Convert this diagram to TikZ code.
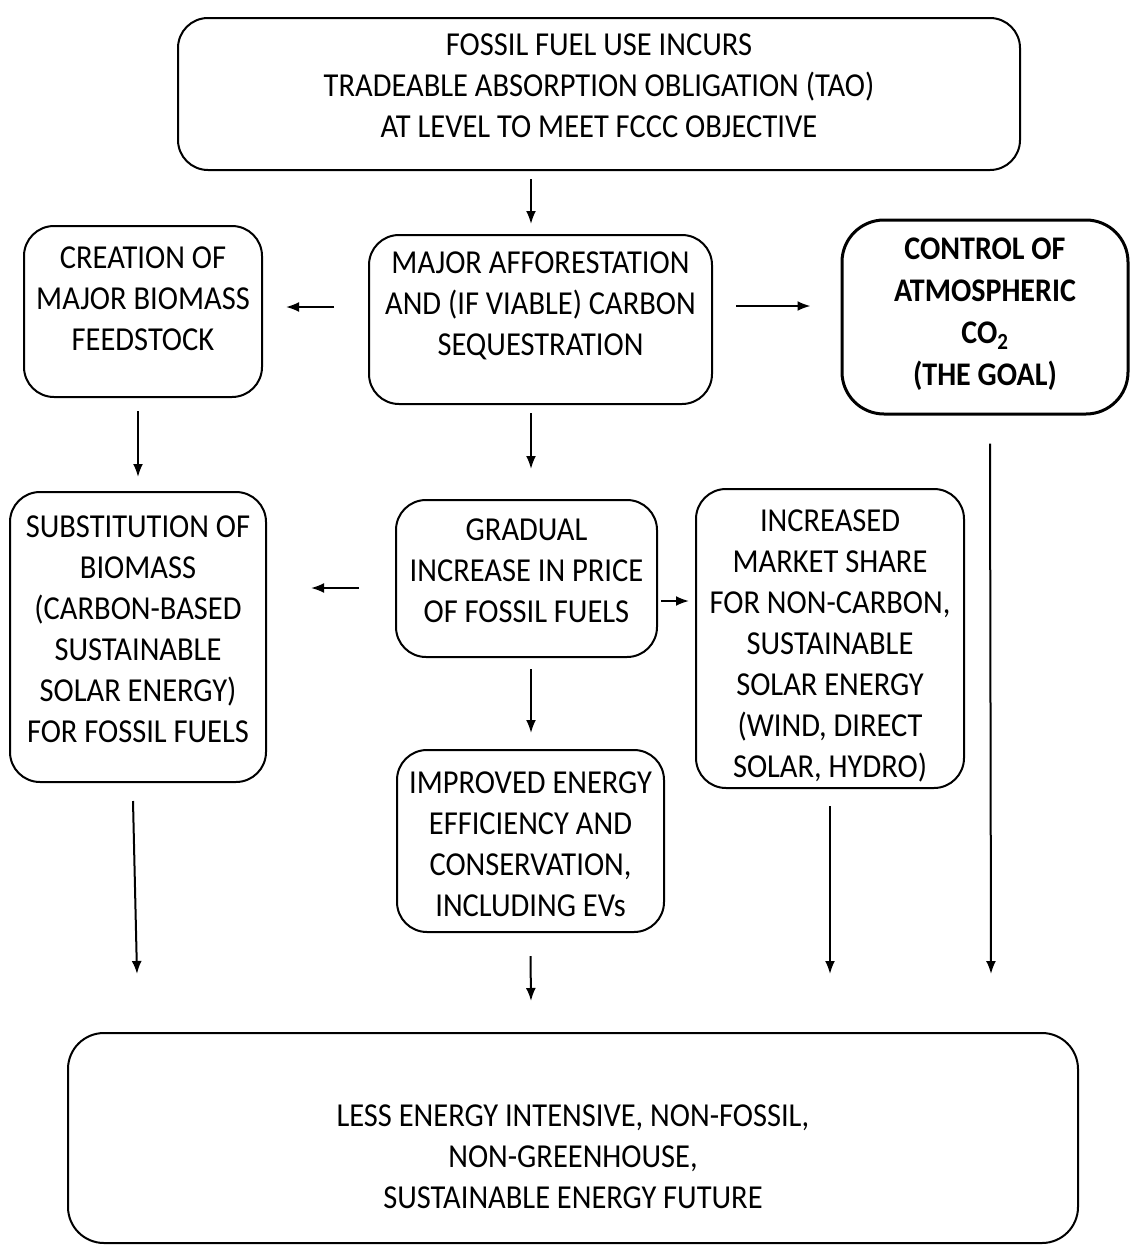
\documentclass[tikz,border=0pt]{standalone}
\usepackage{fontspec}
\setmainfont{Carlito}[FakeStretch=0.91]
\usetikzlibrary{arrows.meta}
\begin{document}
\begin{tikzpicture}[x=1pt,y=-1pt,
  box/.style={draw,line width=2pt,rounded corners=30pt,inner sep=0pt},
  goalbox/.style={draw,line width=3pt,rounded corners=42pt,inner sep=0pt},
  lbl/.style={align=center,inner sep=0pt,font=\fontsize{33.5}{41}\selectfont},
  boldlbl/.style={align=center,inner sep=0pt,font=\fontsize{33}{42}\selectfont\bfseries},
  arr/.style={line width=2pt,-{Latex[length=13pt,width=10pt]}}]
\useasboundingbox (0,0) rectangle (1130,1245);
% boxes
\node[box,minimum width=842pt,minimum height=152pt] (top) at (599,94) {};
\node[box,minimum width=238pt,minimum height=171pt] (bio) at (143,311.5) {};
\node[box,minimum width=343pt,minimum height=169pt] (aff) at (540.5,319.5) {};
\node[goalbox,minimum width=286pt,minimum height=194pt] (goal) at (985,317) {};
\node[box,minimum width=256pt,minimum height=290pt] (subs) at (138,637) {};
\node[box,minimum width=261pt,minimum height=157pt] (grad) at (526.5,578.5) {};
\node[box,minimum width=268pt,minimum height=299pt] (incr) at (830,638.5) {};
\node[box,minimum width=267pt,minimum height=182pt] (impr) at (530.5,841) {};
\node[box,rounded corners=36pt,minimum width=1010pt,minimum height=210pt] (fut) at (573,1138) {};
% labels
\node[lbl] (topT) at (599,86) {FOSSIL FUEL USE INCURS\\TRADEABLE ABSORPTION OBLIGATION (TAO)\\AT LEVEL TO MEET FCCC OBJECTIVE};
\node[lbl] (bioT) at (143,299) {CREATION OF\\MAJOR BIOMASS\\FEEDSTOCK};
\node[lbl] (affT) at (540.5,306) {MAJOR AFFORESTATION\\AND (IF VIABLE) CARBON\\SEQUESTRATION};
\node[boldlbl] (goalT) at (985,314) {CONTROL OF\\ATMOSPHERIC\\CO\textsubscript{2}\\(THE GOAL)};
\node[lbl] (subsT) at (138,629.5) {SUBSTITUTION OF\\BIOMASS\\(CARBON-BASED\\SUSTAINABLE\\SOLAR ENERGY)\\FOR FOSSIL FUELS};
\node[lbl] (gradT) at (526.5,571) {GRADUAL\\INCREASE IN PRICE\\OF FOSSIL FUELS};
\node[lbl] (incrT) at (830,646) {INCREASED\\MARKET SHARE\\FOR NON-CARBON,\\SUSTAINABLE\\SOLAR ENERGY\\(WIND, DIRECT\\SOLAR, HYDRO)};
\node[lbl] (imprT) at (530.5,844) {IMPROVED ENERGY\\EFFICIENCY AND\\CONSERVATION,\\INCLUDING EVs};
\node[lbl] (futT) at (573,1157) {LESS ENERGY INTENSIVE, NON-FOSSIL,\\NON-GREENHOUSE,\\SUSTAINABLE ENERGY FUTURE};
% arrows
\draw[arr] ([xshift=-68pt,yshift=-8pt]top.south) -- ([xshift=-9.5pt,yshift=10pt]aff.north);
\draw[arr] ([xshift=-34pt,yshift=12.5pt]aff.west) -- ([xshift=23pt,yshift=4.5pt]bio.east);
\draw[arr] ([xshift=23pt,yshift=13.5pt]aff.east) -- ([xshift=-30pt,yshift=11pt]goal.west);
\draw[arr] ([xshift=-5pt,yshift=-13pt]bio.south) -- ([yshift=14pt]subs.north);
\draw[arr] ([xshift=-9.5pt,yshift=-8pt]aff.south) -- ([xshift=4.5pt,yshift=30pt]grad.north);
\draw[arr] ([xshift=-36pt,yshift=-9.5pt]grad.west) -- ([xshift=44pt,yshift=49pt]subs.east);
\draw[arr] ([xshift=3pt,yshift=-22.5pt]grad.east) -- ([xshift=-6pt,yshift=37.5pt]incr.west);
\draw[arr] ([xshift=4.5pt,yshift=-11pt]grad.south) -- ([xshift=0.5pt,yshift=16pt]impr.north);
\draw[arr] ([xshift=-5pt,yshift=-18pt]subs.south) -- ([xshift=70pt,yshift=58pt]fut.north west);
\draw[arr] ([yshift=-23pt]impr.south) -- ([xshift=-42pt,yshift=31pt]fut.north);
\draw[arr] ([yshift=-17pt]incr.south) -- ([xshift=257pt,yshift=58pt]fut.north);
\draw[arr] ([xshift=5pt,yshift=-28pt]goal.south) -- ([xshift=-88pt,yshift=58pt]fut.north east);
\end{tikzpicture}
\end{document}
